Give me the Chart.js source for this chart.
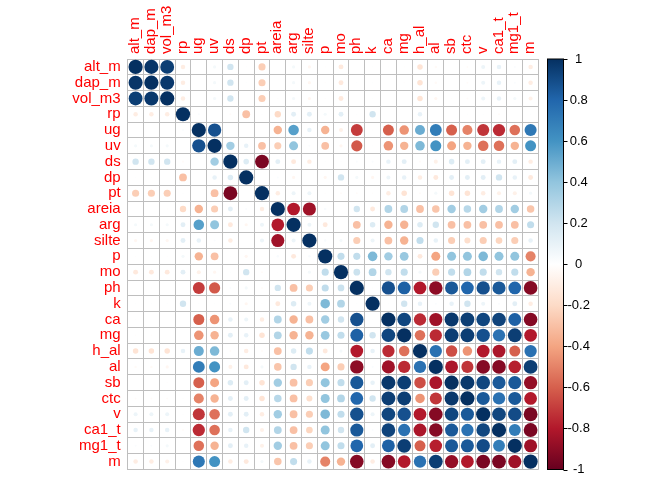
<!DOCTYPE html>
<html><head><meta charset="utf-8">
<script src="https://cdn.jsdelivr.net/npm/chart.js@4"></script>
<style>html,body{margin:0;padding:0;background:#fff}</style>
</head><body>
<canvas id="c" width="672" height="480" style="display:block;width:672px;height:480px"></canvas>
<script>
const varNames = ['alt_m','dap_m','vol_m3','rp','ug','uv','ds','dp','pt','areia','arg','silte','p','mo','ph','k','ca','mg','h_al','al','sb','ctc','v','ca1_t','mg1_t','m'];

// upper triangle of the correlation matrix: each row holds the values right of the diagonal
const corr_alt_m = [0.98,0.95,-0.10,0.00,0.05,0.20,0.01,-0.25,0.00,0.05,-0.05,-0.01,-0.12,0.00,0.01,0.01,-0.01,-0.15,-0.03,0.00,-0.02,0.08,0.10,0.02,-0.10];
const corr_dap_m = [0.97,-0.10,0.00,0.05,0.20,0.01,-0.25,0.00,0.05,-0.05,-0.01,-0.12,0.01,0.01,0.00,-0.01,-0.15,-0.03,0.00,-0.02,0.08,0.10,0.02,-0.10];
const corr_vol_m3 = [-0.10,0.00,0.05,0.20,0.00,-0.25,-0.01,0.05,-0.05,-0.01,-0.12,0.00,0.01,0.00,0.00,-0.15,-0.05,-0.01,-0.02,0.08,0.10,0.05,-0.08];
const corr_rp = [0.02,0.00,-0.02,-0.30,0.01,-0.20,0.12,0.12,0.05,0.12,0.01,0.20,0.00,0.00,0.10,0.00,0.00,0.01,0.01,-0.02,0.00,0.01];
const corr_ug = [0.88,0.00,0.00,0.00,-0.35,0.55,0.10,-0.35,-0.08,-0.70,0.01,-0.60,-0.45,0.50,0.70,-0.60,-0.50,-0.72,-0.75,-0.55,0.72];
const corr_uv = [0.35,0.10,-0.30,-0.25,0.40,0.02,-0.30,-0.05,-0.62,0.01,-0.45,-0.35,0.45,0.60,-0.40,-0.35,-0.55,-0.55,-0.35,0.60];
const corr_ds = [0.15,-0.95,0.12,-0.12,-0.10,0.01,0.01,0.02,0.02,0.10,0.12,-0.02,-0.08,0.15,0.12,0.12,0.10,0.12,-0.10];
const corr_dp = [0.00,0.02,-0.05,0.00,-0.05,0.20,0.05,-0.05,0.08,0.10,-0.10,-0.12,0.12,0.12,0.12,0.20,0.10,-0.12];
const corr_pt = [-0.10,0.08,0.08,-0.01,-0.02,-0.02,-0.01,-0.10,-0.15,-0.02,0.05,-0.15,-0.15,-0.10,-0.08,-0.08,0.05];
const corr_areia = [-0.80,-0.85,0.03,0.01,0.20,-0.12,0.30,0.30,-0.30,-0.28,0.35,0.28,0.35,0.30,0.35,-0.28];
const corr_arg = [0.08,-0.12,0.00,-0.30,0.15,-0.35,-0.35,0.15,0.20,-0.30,-0.30,-0.30,-0.30,-0.30,0.25];
const corr_silte = [0.03,0.05,-0.25,0.08,-0.30,-0.35,0.25,0.10,-0.25,-0.18,-0.25,-0.22,-0.25,0.10];
const corr_p = [0.25,0.25,0.45,0.35,0.38,-0.12,-0.40,0.40,0.40,0.45,0.40,0.40,-0.50];
const corr_mo = [0.22,0.30,0.20,0.25,0.05,-0.25,0.25,0.30,0.25,0.20,0.25,-0.35];
const corr_ph = [0.01,0.88,0.82,-0.80,-0.90,0.85,0.80,0.88,0.85,0.80,-0.92];
const corr_k = [0.01,0.20,0.10,0.02,0.10,0.20,0.08,0.02,0.12,-0.10];
const corr_ca = [0.92,-0.75,-0.85,0.97,0.95,0.92,0.93,0.82,-0.92];
const corr_mg = [-0.55,-0.75,0.95,0.95,0.88,0.75,0.95,-0.80];
const corr_h_al = [0.75,-0.65,-0.45,-0.80,-0.82,-0.60,0.75];
const corr_al = [-0.82,-0.72,-0.92,-0.92,-0.78,0.95];
const corr_sb = [0.97,0.92,0.85,0.85,-0.88];
const corr_ctc = [0.85,0.75,0.85,-0.80];
const corr_v = [0.92,0.90,-0.95];
const corr_ca1_t = [0.70,-0.95];
const corr_mg1_t = [-0.85];

const upperRows = [corr_alt_m,corr_dap_m,corr_vol_m3,corr_rp,corr_ug,corr_uv,corr_ds,corr_dp,corr_pt,corr_areia,corr_arg,corr_silte,corr_p,corr_mo,corr_ph,corr_k,corr_ca,corr_mg,corr_h_al,corr_al,corr_sb,corr_ctc,corr_v,corr_ca1_t,corr_mg1_t,[]];

const paletteStops = ['#67001F','#B2182B','#D6604D','#F4A582','#FDDBC7','#FFFFFF','#D1E5F0','#92C5DE','#4393C3','#2166AC','#053061'];
const colorbarTicks = [-1,-0.8,-0.6,-0.4,-0.2,0,0.2,0.4,0.6,0.8,1];
const colorbarLabels = ['-1','-0.8','-0.6','-0.4','-0.2','0','0.2','0.4','0.6','0.8','1'];

// build the symmetric matrix
const n = varNames.length;
const M = varNames.map(() => new Array(n).fill(0));
for (let i = 0; i < n; i++) {
  M[i][i] = 1;
  upperRows[i].forEach((v, k) => { const j = i + 1 + k; M[i][j] = v; M[j][i] = v; });
}
const points = [];
for (let i = 0; i < n; i++) for (let j = 0; j < n; j++) points.push({x: varNames[j], y: varNames[i], v: M[i][j]});

function hexToRgb(h){return [parseInt(h.slice(1,3),16),parseInt(h.slice(3,5),16),parseInt(h.slice(5,7),16)];}
const stopRgb = paletteStops.map(hexToRgb);
function colorFor(v){
  const t = Math.max(0, Math.min(1, (v + 1) / 2)) * (stopRgb.length - 1);
  const k = Math.min(stopRgb.length - 2, Math.floor(t));
  const f = t - k;
  const a = stopRgb[k], b = stopRgb[k + 1];
  return 'rgb(' + a.map((c, q) => Math.round(c + (b[q] - c) * f)).join(',') + ')';
}

const colorbarPlugin = {
  id: 'colorbar',
  afterDraw(chart) {
    const s = chart.scales.cb, ctx = chart.ctx;
    const top = s.getPixelForValue(1), bot = s.getPixelForValue(-1);
    const x0 = Math.round(s.left + 8) + 0.5, w = 16;
    const g = ctx.createLinearGradient(0, bot, 0, top);
    paletteStops.forEach((c, i) => g.addColorStop(i / (paletteStops.length - 1), c));
    ctx.save();
    ctx.fillStyle = g;
    ctx.fillRect(x0, top, w, bot - top);
    ctx.strokeStyle = '#000'; ctx.lineWidth = 1;
    ctx.strokeRect(x0, top, w, bot - top);
    colorbarTicks.forEach(v => {
      const y = Math.round(s.getPixelForValue(v)) + 0.5;
      ctx.beginPath(); ctx.moveTo(x0 + w, y); ctx.lineTo(x0 + w + 4, y); ctx.stroke();
    });
    ctx.restore();
  }
};

const labelFont = {family: "'Liberation Sans', Arial, sans-serif", size: 15};

new Chart(document.getElementById('c'), {
  type: 'scatter',
  data: {datasets: [{
    data: points,
    showLine: false,
    pointStyle: 'circle',
    pointBackgroundColor: c => (c.raw ? colorFor(c.raw.v) : '#000'),
    pointBorderWidth: 0,
    pointBorderColor: 'rgba(0,0,0,0)',
    pointHoverRadius: 0,
    pointRadius: c => {
      if (!c.raw) return 0;
      const cell = c.chart.scales.x.width / n;
      return 0.9 * cell / 2 * Math.sqrt(Math.abs(c.raw.v));
    },
    clip: false
  }]},
  options: {
    responsive: false,
    animation: false,
    events: [],
    layout: {padding: {left: 0, top: 0, right: 73.5, bottom: 10.5}},
    plugins: {legend: {display: false}, tooltip: {enabled: false}},
    scales: {
      x: {
        type: 'category', labels: varNames, position: 'top', offset: true,
        grid: {offset: true, color: '#BEBEBE', lineWidth: 1, drawTicks: false},
        border: {display: true, color: '#BEBEBE'},
        ticks: {autoSkip: false, minRotation: 90, maxRotation: 90, padding: 5, labelOffset: 17.5, color: '#FF0000', font: labelFont},
        afterFit: s => { s.height = 59; }
      },
      y: {
        type: 'category', labels: varNames, position: 'left', offset: true,
        grid: {offset: true, color: '#BEBEBE', lineWidth: 1, drawTicks: true, tickLength: 7, tickColor: 'rgba(0,0,0,0)'},
        border: {display: true, color: '#BEBEBE'},
        ticks: {autoSkip: false, padding: 0, color: '#FF0000', font: labelFont},
        afterFit: s => { s.width = 127.7; }
      },
      cb: {
        type: 'linear', axis: 'y', position: 'right', min: -1, max: 1,
        grid: {display: true, drawOnChartArea: false, drawTicks: true, tickLength: 29, color: 'rgba(0,0,0,0)', tickColor: 'rgba(0,0,0,0)'},
        border: {display: false},
        afterBuildTicks: s => { s.ticks = colorbarTicks.map(v => ({value: v})); },
        ticks: {callback: (v, i) => colorbarLabels[i], crossAlign: 'center', padding: 0, color: '#000', font: {family: "'Liberation Sans', Arial, sans-serif", size: 13}},
        afterFit: s => { s.width = 60; }
      }
    }
  },
  plugins: [colorbarPlugin]
});
</script>
</body></html>
